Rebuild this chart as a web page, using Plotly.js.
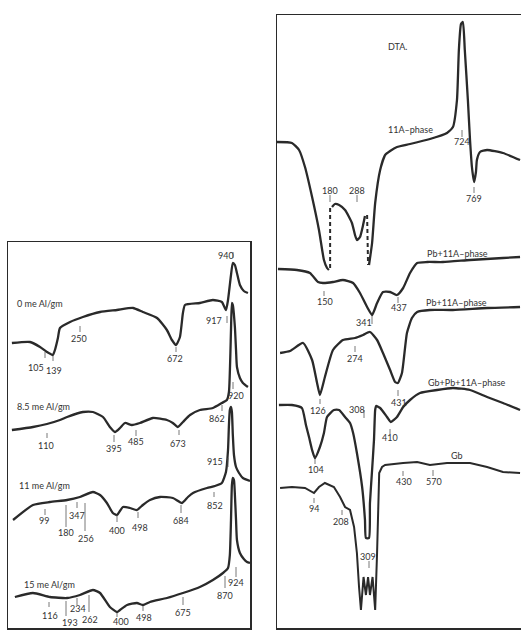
<!DOCTYPE html>
<html><head><meta charset="utf-8">
<script src="https://cdn.plot.ly/plotly-3.0.1.min.js"></script>
<style>html,body{margin:0;padding:0;background:#fff}#chart{width:521px;height:630px}</style>
</head><body><div id="chart"></div>
<script>
// ---------- DATA: temperature (°C) vs DTA deflection (arbitrary units) ----------
// Left panel: Al-exchanged samples
const t0me = [-44,35,79,109,135,144,157,166,210,266,341,415,485,528,590,633,655,673,690,703,712,777,834,873,891,900,913,921,930,939,952,969,987];
const d0me = [287,288,283,278,275,280,292,302,308,313,318,320,322,318,312,300,290,285,293,317,325,327,330,328,320,330,355,367,365,357,345,339,337];
const t85me = [-44,48,109,166,197,266,310,354,384,406,428,450,480,515,572,633,659,681,703,734,777,834,873,895,904,913,917,921,930,935,939,952,965,987];
const d85me = [200,203,206,210,213,218,218,213,203,198,202,207,205,207,212,210,207,203,208,215,220,222,227,230,238,300,327,325,303,280,263,252,247,243];
const t11me = [-39,48,122,197,253,310,341,371,397,415,441,472,502,528,559,603,659,699,725,747,808,843,873,891,900,904,908,913,917,921,926,935,948,965,996];
const d11me = [110,125,128,130,133,138,135,127,117,115,123,122,120,125,130,133,132,127,133,137,142,144,147,158,180,205,220,223,218,195,175,163,157,152,149];
const t15me = [-31,48,122,197,253,310,341,384,415,428,459,502,528,559,633,703,777,834,878,900,908,913,917,921,926,930,935,939,952,969,983,996];
const d15me = [33,37,33,32,35,40,37,23,18,20,25,27,25,28,32,37,43,50,57,62,75,110,145,152,150,135,110,90,77,71,68,67];

// Right panel: 11A-phase mixtures
const t11A_a = [-62,1,31,56,86,115,136,149,157];
const d11A_a = [488,487,480,463,433,400,370,362,360];
const t11A_b = [170,182,200,225,254,267,275,288,301,309];
const d11A_b = [423,426,425,420,407,395,390,393,405,414];
const t11A_c = [326,339,352,373,394,415,444,499,583,655,680,697,705,714,722,730,743,752,760,769,777,781,794,824,891,963];
const d11A_c = [365,387,427,460,475,479,483,486,491,497,503,530,580,606,608,580,530,490,463,448,458,470,478,480,477,470];
const t11A_dash1 = [162,162];
const d11A_dash1 = [362,423];
const t11A_dash2 = [318,322];
const d11A_dash2 = [415,365];
const tPb1 = [-58,22,77,111,132,174,216,259,288,318,339,360,385,415,444,470,499,529,571,638,752,891,963];
const dPb1 = [361,360,357,348,347,348,350,347,337,323,315,327,338,338,335,342,357,367,368,368,370,372,373];
const tPb2 = [-49,-7,48,86,107,119,140,174,216,267,301,330,360,385,415,436,448,465,486,507,529,583,680,824,963];
const dPb2 = [277,279,287,270,247,235,253,280,290,292,295,298,290,277,260,248,247,257,297,312,318,320,320,322,323];
const tGbPb = [-54,1,43,60,73,86,98,119,136,149,178,200,225,246,259,275,297,309,313,326,330,339,347,352,356,373,402,418,444,470,499,541,613,680,752,824,891,963];
const dGbPb = [225,225,222,205,193,180,172,183,197,213,220,220,213,207,197,177,143,110,92,92,127,160,190,220,224,222,213,208,213,223,230,237,240,242,240,233,227,220];
const tGb = [-49,1,56,77,94,115,140,178,204,225,246,263,275,284,292,303,313,322,330,341,352,360,364,369,381,394,470,529,583,655,752,824,891,963];
const dGb = [142,143,142,139,137,143,147,143,133,123,120,103,77,43,20,53,35,53,35,53,20,77,127,157,163,165,167,168,165,167,167,163,158,157];

// Curve names and peak labels (text)
const leftNames = ["0 me Al/gm","8.5 me Al/gm","11 me Al/gm","15 me Al/gm"];
const rightNames = ["DTA.","11A–phase","Pb+11A–phase","Pb+11A–phase","Gb+Pb+11A–phase","Gb"];
const leftPeaks = ["105","139","250","672","917","940","110","395","485","673","862","920","99","180","347","256","400","498","684","852","915","116","193","234","262","400","498","675","870","924"];
const rightPeaks = ["180","288","724","769","150","341","437","274","126","431","308","410","104","94","208","309","430","570"];

// ---------- LAYOUT (page pixel placements) ----------
const W = 521, H = 630;
const leftNamePos = [[15,303],[15,406],[17,485],[22,584]];
const rightNamePos = [[397,47],[410,130],[457,253],[456,302],[467,383],[457,455]];
const leftPeakPos = [[36,367],[54,370],[79,338],[175,358],[214,320],[226,255],
  [46,445],[114,448],[136,442],[178,443],[217,418],[236,395],
  [44,520],[66,532],[77,515],[86,538],[117,530],[140,527],[181,520],[215,505],[215,462],
  [50,615],[70,622],[78,608],[90,619],[121,621],[144,617],[183,612],[225,595],[236,582]];
const leftTicks = [[45,352,358],[53,356,361],[80,326,332],[176,347,352],[227,316,323],[233,252,258],
  [47,433,438],[114,435,442],[136,430,436],[179,430,435],[222,405,411],[233,382,389],
  [45,509,515],[66,505,527],[77,502,508],[85,503,531],[117,515,522],[138,512,518],[181,505,513],[214,492,497],[228,458,467],
  [49,602,607],[66,601,616],[77,598,605],[89,595,612],[117,613,617],[143,606,611],[183,597,605],[225,576,588],[236,567,577]];
const rightPeakPos = [[330,190],[357,190],[462,142],[474,198],[325,301],[364,322],[399,307],[355,358],[318,410],[399,403],[357,409],[390,437],[316,469],[314,508],[341,521],[368,556],[404,482],[434,482]];
const rightTicks = [[330,195,202],[357,195,202],[462,130,137],[474,187,193],[324,291,296],[372,316,324],[398,297,303],[355,346,352],[320,399,404],[398,390,396],[364,410,418],[390,429,434],[315,459,464],[314,498,503],[342,510,515],[369,561,568],[403,471,476],[433,470,476]];

const INK = '#2a2a2a';
const FONT = 'Lato, "Noto Sans", sans-serif';
const px = x => x / W;
const py = y => 1 - y / H;

function curve(x, y, ax, extra) {
  return Object.assign({
    x: x, y: y, type: 'scatter', mode: 'lines',
    xaxis: ax === 2 ? 'x2' : 'x', yaxis: ax === 2 ? 'y2' : 'y',
    line: {color: INK, width: 2.3, shape: 'spline', smoothing: 0.5},
    hoverinfo: 'skip'
  }, extra || {});
}

const traces = [
  curve(t0me, d0me, 1), curve(t85me, d85me, 1), curve(t11me, d11me, 1), curve(t15me, d15me, 1),
  curve(t11A_a, d11A_a, 2), curve(t11A_b, d11A_b, 2), curve(t11A_c, d11A_c, 2),
  curve(t11A_dash1, d11A_dash1, 2, {line: {color: INK, width: 2, dash: '4px,3px'}}),
  curve(t11A_dash2, d11A_dash2, 2, {line: {color: INK, width: 2, dash: '4px,3px'}}),
  curve(tPb1, dPb1, 2), curve(tPb2, dPb2, 2), curve(tGbPb, dGbPb, 2),
  curve(tGb, dGb, 2, {line: {color: INK, width: 2, shape: 'linear'}})
];

const annotations = [];
const ann = (text, p, size, anchor) => annotations.push({
  text: text, xref: 'paper', yref: 'paper', x: px(p[0]), y: py(p[1]),
  xanchor: anchor || 'center', yanchor: 'middle', showarrow: false,
  font: {family: FONT, size: size, color: '#333'}
});
leftNames.forEach((t, i) => ann(t, leftNamePos[i], 9, 'left'));
rightNames.forEach((t, i) => ann(t, rightNamePos[i], 9, 'center'));
leftPeaks.forEach((t, i) => ann(t, leftPeakPos[i], 9));
rightPeaks.forEach((t, i) => ann(t, rightPeakPos[i], 9));

const shapes = leftTicks.concat(rightTicks).map(t => ({
  type: 'line', xref: 'paper', yref: 'paper',
  x0: px(t[0]), x1: px(t[0]), y0: py(t[1]), y1: py(t[2]),
  line: {color: '#555', width: 0.8}
}));

const axBase = {showgrid: false, zeroline: false, showticklabels: false, ticks: '',
  showline: true, linecolor: INK, linewidth: 1.5, fixedrange: true};

const layout = {
  width: W, height: H, margin: {l: 0, r: 0, t: 0, b: 0},
  paper_bgcolor: '#fff', plot_bgcolor: 'rgba(0,0,0,0)', showlegend: false,
  xaxis: Object.assign({}, axBase, {domain: [8 / W, 250 / W], range: [-61, 996], mirror: true, anchor: 'y'}),
  yaxis: Object.assign({}, axBase, {domain: [2 / H, 388 / H], range: [2, 388], mirror: true, anchor: 'x'}),
  xaxis2: Object.assign({}, axBase, {domain: [277 / W, 1], range: [-62, 967], mirror: true, anchor: 'y2'}),
  yaxis2: Object.assign({}, axBase, {domain: [2 / H, 615 / H], range: [2, 615], mirror: false, anchor: 'x2'}),
  annotations: annotations, shapes: shapes
};

Plotly.newPlot('chart', traces, layout, {staticPlot: true, displayModeBar: false});
</script>
</body></html>
